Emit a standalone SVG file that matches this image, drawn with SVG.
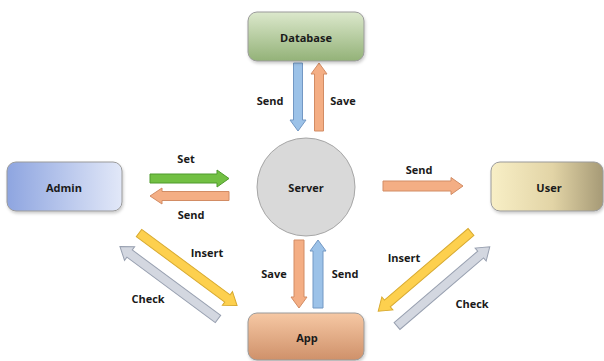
<svg xmlns="http://www.w3.org/2000/svg" width="604" height="361" viewBox="0 0 604 361">
  <defs>
    <linearGradient id="gDb" x1="0" y1="0" x2="0" y2="1">
      <stop offset="0" stop-color="#dce8cc"/>
      <stop offset="1" stop-color="#93b278"/>
    </linearGradient>
    <linearGradient id="gAdmin" x1="0" y1="0" x2="1" y2="0">
      <stop offset="0" stop-color="#8ea5e0"/>
      <stop offset="1" stop-color="#e2e8f8"/>
    </linearGradient>
    <linearGradient id="gUser" x1="0" y1="0" x2="1" y2="0">
      <stop offset="0" stop-color="#f8efc6"/>
      <stop offset="0.55" stop-color="#e2d4a6"/>
      <stop offset="1" stop-color="#a69a76"/>
    </linearGradient>
    <linearGradient id="gApp" x1="0" y1="0" x2="0" y2="1">
      <stop offset="0" stop-color="#f6c8a4"/>
      <stop offset="1" stop-color="#cf916a"/>
    </linearGradient>
    <filter id="soft" x="-10%" y="-10%" width="130%" height="140%">
      <feDropShadow dx="1" dy="2" stdDeviation="1.5" flood-color="#000" flood-opacity="0.2"/>
    </filter>
  </defs>
  <style>
    .box { stroke: #9a9a9a; stroke-width: 1; filter: url(#soft); }
    .lbl { font-family: "Open Sans", "Noto Sans", "DejaVu Sans", sans-serif; font-weight: bold; font-size: 11px; fill: #1a1a1a; text-anchor: middle; dominant-baseline: central; }
    .blue { fill: #9cc2e8; stroke: #7398c4; stroke-width: 1; }
    .orange { fill: #f4ae84; stroke: #d28c64; stroke-width: 1; }
    .green { fill: #72c043; stroke: #4f9a2c; stroke-width: 1; }
    .yellow { fill: #fdd04e; stroke: #d8aa30; stroke-width: 1; }
    .grey { fill: #d3d7e0; stroke: #98a0b0; stroke-width: 1; }
  </style>
  <rect width="604" height="361" fill="#ffffff"/>

  <!-- connectors: block arrows drawn along +x, then placed with translate/rotate -->
  <g id="connectors">
    <!-- Admin <-> Server -->
    <polygon class="green" transform="translate(150,178.5)" points="0,-4.5 67,-4.5 67,-8.5 79,0 67,8.5 67,4.5 0,4.5"/>
    <polygon class="orange" transform="translate(229,196) rotate(180)" points="0,-4.5 67,-4.5 67,-8 79,0 67,8 67,4.5 0,4.5"/>
    <!-- Database <-> Server -->
    <polygon class="blue" transform="translate(298,63) rotate(90)" points="0,-4.5 57,-4.5 57,-8 68,0 57,8 57,4.5 0,4.5"/>
    <polygon class="orange" transform="translate(319,131) rotate(-90)" points="0,-4.5 57,-4.5 57,-8 68,0 57,8 57,4.5 0,4.5"/>
    <!-- Server -> User -->
    <polygon class="orange" transform="translate(383,186)" points="0,-5 68,-5 68,-8.5 80,0 68,8.5 68,5 0,5"/>
    <!-- Server <-> App -->
    <polygon class="orange" transform="translate(299,240) rotate(90)" points="0,-5 57,-5 57,-8 68,0 57,8 57,5 0,5"/>
    <polygon class="blue" transform="translate(318,308) rotate(-90)" points="0,-5 57,-5 57,-8 68,0 57,8 57,5 0,5"/>
    <!-- Admin <-> App -->
    <polygon class="yellow" transform="translate(139,233) rotate(36.5)" points="0,-4.5 110,-4.5 110,-8.5 122,0 110,8.5 110,4.5 0,4.5"/>
    <polygon class="grey" transform="translate(218,319) rotate(216.5)" points="0,-4.5 110,-4.5 110,-8.5 122,0 110,8.5 110,4.5 0,4.5"/>
    <!-- User <-> App -->
    <polygon class="yellow" transform="translate(471,232) rotate(139.5)" points="0,-4.5 110,-4.5 110,-8.5 122,0 110,8.5 110,4.5 0,4.5"/>
    <polygon class="grey" transform="translate(397,326) rotate(-40.5)" points="0,-4.5 110,-4.5 110,-8.5 122,0 110,8.5 110,4.5 0,4.5"/>

    <text class="lbl" x="186" y="158">Set</text>
    <text class="lbl" x="191" y="214">Send</text>
    <text class="lbl" x="270" y="100">Send</text>
    <text class="lbl" x="343" y="100">Save</text>
    <text class="lbl" x="419" y="169">Send</text>
    <text class="lbl" x="274" y="273">Save</text>
    <text class="lbl" x="345" y="273">Send</text>
    <text class="lbl" x="207" y="252">Insert</text>
    <text class="lbl" x="148" y="298">Check</text>
    <text class="lbl" x="404" y="257">Insert</text>
    <text class="lbl" x="472" y="303">Check</text>
  </g>

  <g id="database">
    <rect class="box" x="248" y="12" width="116" height="49" rx="9" fill="url(#gDb)"/>
    <text class="lbl" x="306" y="37">Database</text>
  </g>
  <g id="admin">
    <rect class="box" x="7" y="162" width="115" height="49" rx="9" fill="url(#gAdmin)"/>
    <text class="lbl" x="64" y="187">Admin</text>
  </g>
  <g id="server">
    <circle cx="306" cy="187" r="49" fill="#d9d9d9" stroke="#a6a6a6" stroke-width="1"/>
    <text class="lbl" x="306" y="187">Server</text>
  </g>
  <g id="user">
    <rect class="box" x="491" y="162" width="112" height="49" rx="9" fill="url(#gUser)"/>
    <text class="lbl" x="549" y="187">User</text>
  </g>
  <g id="app">
    <rect class="box" x="248" y="313" width="116" height="47" rx="9" fill="url(#gApp)"/>
    <text class="lbl" x="307" y="337">App</text>
  </g>
</svg>
